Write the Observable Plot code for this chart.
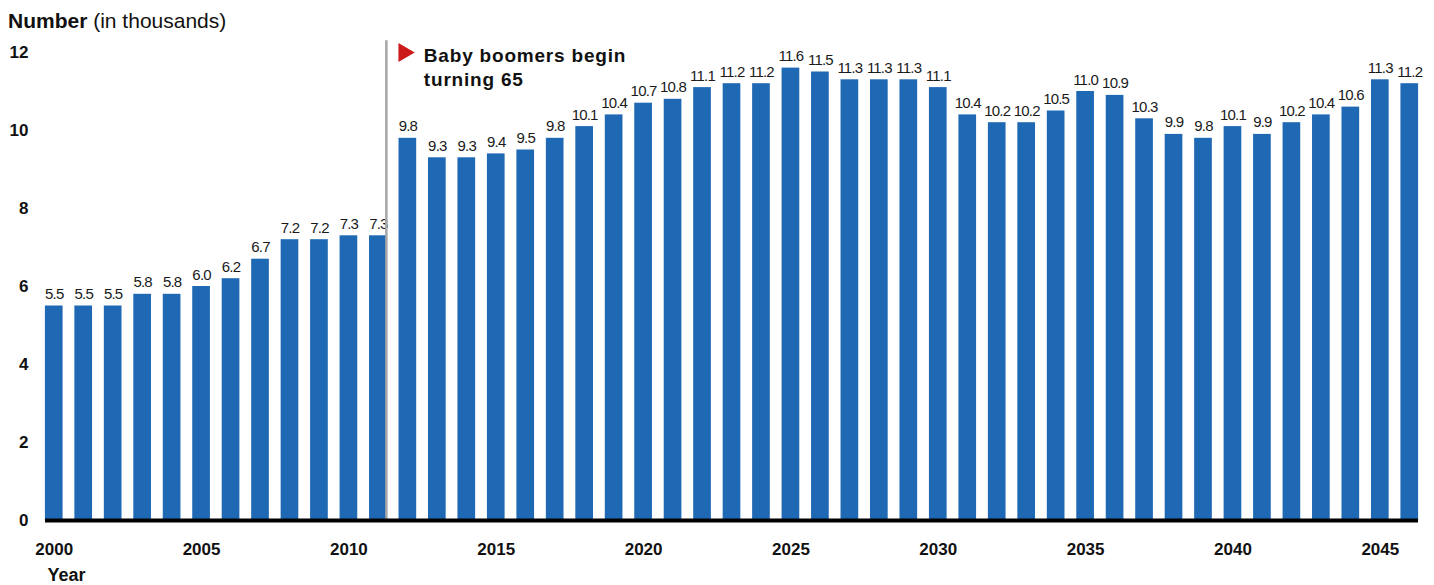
<!DOCTYPE html>
<html><head><meta charset="utf-8">
<script src="https://cdn.jsdelivr.net/npm/d3@7"></script>
<script src="https://cdn.jsdelivr.net/npm/@observablehq/plot@0.6"></script>
<style>
body{margin:0;background:#fff;font-family:"Liberation Sans",Arial,sans-serif;}
#title{height:36px;box-sizing:border-box;padding:10px 0 0 8px;font-size:21px;line-height:1;color:#111;white-space:nowrap;}
#chart svg{display:block;}
g.vlabels text{letter-spacing:-0.8px;}
g.annot text{letter-spacing:0.8px;}
</style></head><body>
<div id="title"><b>Number</b> (in thousands)</div>
<div id="chart"></div>
<script>
const years = [2000,2001,2002,2003,2004,2005,2006,2007,2008,2009,2010,2011,2012,2013,2014,2015,2016,2017,2018,2019,2020,2021,2022,2023,2024,2025,2026,2027,2028,2029,2030,2031,2032,2033,2034,2035,2036,2037,2038,2039,2040,2041,2042,2043,2044,2045,2046];
const values = [5.5,5.5,5.5,5.8,5.8,6.0,6.2,6.7,7.2,7.2,7.3,7.3,9.8,9.3,9.3,9.4,9.5,9.8,10.1,10.4,10.7,10.8,11.1,11.2,11.2,11.6,11.5,11.3,11.3,11.3,11.1,10.4,10.2,10.2,10.5,11.0,10.9,10.3,9.9,9.8,10.1,9.9,10.2,10.4,10.6,11.3,11.2];
const xTicks = [2000,2005,2010,2015,2020,2025,2030,2035,2040,2045];
const yTicks = [0,2,4,6,8,10,12];
const annotationText = "Baby boomers begin\nturning 65";
const annotationYear = 2012;
const dividerYear = 2011;
const xLabel = "Year";

const data = years.map((year, i) => ({year, value: values[i]}));

const plot = Plot.plot({
  width: 1434, height: 549,
  marginTop: 16, marginBottom: 65, marginLeft: 39, marginRight: 10,
  style: {fontFamily: "Liberation Sans, Arial, sans-serif", background: "#fff", color: "#111"},
  x: {type: "band", domain: years, paddingInner: 0.4, paddingOuter: 0.2, round: false, label: null},
  y: {domain: [0, 12], label: null},
  marks: [
    Plot.barY(data, {x: "year", y: "value", fill: "#1f69b4"}),
    Plot.text(data, {x: "year", y: "value", text: d => d.value.toFixed(1), lineAnchor: "bottom", dy: -7, fontSize: 15, fill: "#1a1a1a", className: "vlabels"}),
    Plot.ruleX([{year: dividerYear}], {x: "year", y1: 0, y2: 12.3, dx: 8, stroke: "#a6a6a6", strokeWidth: 2.5}),
    Plot.ruleY([0], {stroke: "#000", strokeWidth: 4, insetLeft: 6, insetRight: 6}),
    Plot.axisX({ticks: xTicks, tickSize: 0, tickPadding: 22, fontSize: 17, fontWeight: "bold", tickFormat: d => String(d), label: null}),
    Plot.axisY({ticks: yTicks, tickSize: 0, tickPadding: 11, fontSize: 17, fontWeight: "bold", label: null}),
    Plot.dot([{year: annotationYear, y: 12}], {x: "year", y: "y", symbol: "triangle2", r: 9, rotate: 90, fill: "#cc1a1a", stroke: "none", dx: -4}),
    Plot.text([{year: annotationYear, y: 12.2, text: annotationText}], {x: "year", y: "y", text: "text", textAnchor: "start", lineAnchor: "top", dx: 16, fontSize: 19, fontWeight: "bold", lineHeight: 1.26, fill: "#111", className: "annot"}),
    Plot.text([xLabel], {frameAnchor: "bottom-left", text: d => d, dx: 8, dy: 60, textAnchor: "start", lineAnchor: "bottom", fontSize: 18, fontWeight: "bold", fill: "#111"})
  ]
});
document.getElementById("chart").appendChild(plot);
</script>
</body></html>
